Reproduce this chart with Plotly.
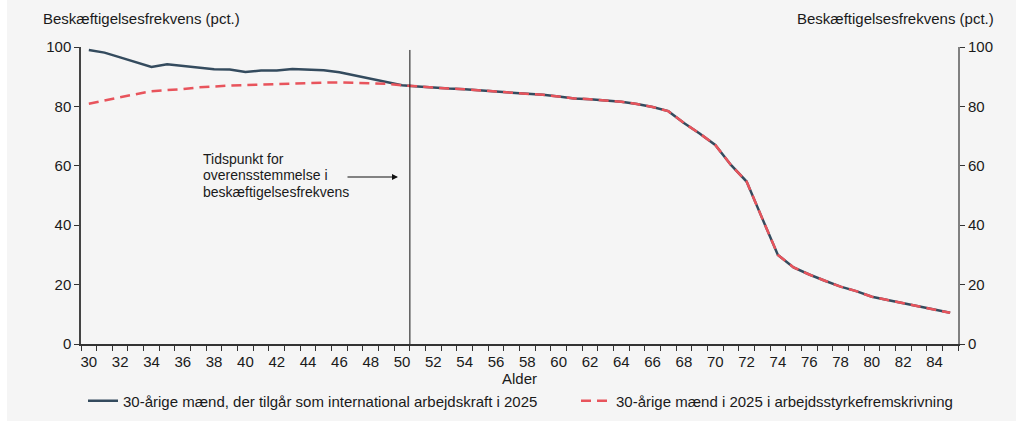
import plotly.graph_objects as go

ages = list(range(30, 86))
blue_head = [99.0, 98.1, 96.5, 94.9, 93.3, 94.2, 93.6, 93.1, 92.5, 92.4, 91.6,
             92.1, 92.1, 92.6, 92.4, 92.2, 91.5, 90.4, 89.5, 88.3, 87.1]
red_head = [80.9, 82.1, 83.1, 84.1, 85.1, 85.5, 85.8, 86.4, 86.8, 87.0, 87.2,
            87.4, 87.5, 87.6, 87.9, 88.0, 88.1, 87.9, 87.7, 87.6, 87.1]
common_tail = [86.7, 86.3, 86.0, 85.8, 85.3, 85.0, 84.6, 84.3, 83.9, 83.3, 82.7,
               82.4, 82.0, 81.6, 80.8, 79.8, 78.4, 74.4, 70.9, 67.0, 60.3, 54.7,
               42.3, 30.0, 25.8, 23.4, 21.3, 19.3, 17.8, 15.9, 14.8, 13.7, 12.6,
               11.4, 10.5]
blue_vals = blue_head + common_tail
red_vals = red_head + common_tail
x_tick_labels = list(range(30, 86, 2))
y_ticks = [0, 20, 40, 60, 80, 100]
name_blue = "30-årige mænd, der tilgår som international arbejdskraft i 2025"
name_red = "30-årige mænd i 2025 i arbejdsstyrkefremskrivning"
y_title = "Beskæftigelsesfrekvens (pct.)"
x_title = "Alder"
note_lines = ["Tidspunkt for", "overensstemmelse i", "beskæftigelsesfrekvens"]

# page: figure placed at window x=7, y=0
OFFX = 7
W, H = 1016 - OFFX, 421
PL, PR, PT, PB = 81, 958, 47, 344          # plot area in window pixels
ML, MR, MT, MB = PL - OFFX, 1016 - PR, PT, H - PB
PW, PH = PR - PL, PB - PT

def px(xp):
    return (xp - PL) / PW

def py(yp):
    return (PB - yp) / PH

FONT = "Liberation Sans, Arial, sans-serif"
BLUE = "#344b5e"
RED = "#e8545c"
TXT = "#1a1a1a"
FS = 15

fig = go.Figure()
fig.add_trace(go.Scatter(x=ages, y=blue_vals, mode="lines", name=name_blue,
                         line=dict(color=BLUE, width=2.5), legend="legend"))
fig.add_trace(go.Scatter(x=ages, y=red_vals, mode="lines", name=name_red,
                         line=dict(color=RED, width=2.5, dash="10px,6px"),
                         yaxis="y2", legend="legend2"))

fig.update_layout(
    width=W, height=H,
    margin=dict(l=ML, r=MR, t=MT, b=MB, autoexpand=False),
    paper_bgcolor="#f5f5f5", plot_bgcolor="#f5f5f5",
    font=dict(family=FONT, size=FS, color=TXT),
    xaxis=dict(range=[29.5, 85.5], tickmode="array", tickvals=x_tick_labels,
               ticks="", showgrid=False, zeroline=False, automargin=False,
               showline=True, linecolor="#333333", linewidth=1.5,
               tickfont=dict(size=FS, color=TXT), ticklabelstandoff=3,
               minor=dict(ticks="outside", tick0=29.5, dtick=1, ticklen=5,
                          tickcolor="#333333", tickwidth=1, showgrid=False)),
    yaxis=dict(range=[0, 100], tickvals=y_ticks, ticks="outside", ticklen=5,
               tickcolor="#333333", showgrid=False, zeroline=False, automargin=False,
               showline=True, linecolor="#444444", linewidth=1.5,
               tickfont=dict(size=FS, color=TXT)),
    yaxis2=dict(range=[0, 100], tickvals=y_ticks, ticks="outside", ticklen=5,
                tickcolor="#333333", overlaying="y", side="right", automargin=False,
                showgrid=False, zeroline=False, showline=True,
                linecolor="#808080", linewidth=2,
                tickfont=dict(size=FS, color=TXT)),
    legend=dict(x=px(83), y=py(401), xanchor="left", yanchor="middle",
                bgcolor="rgba(0,0,0,0)", font=dict(size=FS, color=TXT)),
    legend2=dict(x=px(576), y=py(401), xanchor="left", yanchor="middle",
                 bgcolor="rgba(0,0,0,0)", font=dict(size=FS, color=TXT)),
    showlegend=True,
)

# vertical reference line at the boundary between ages 50 and 51
fig.add_shape(type="line", xref="x", yref="y", x0=50.5, x1=50.5, y0=0, y1=99,
              line=dict(color="#111111", width=1))

fig.add_annotation(xref="paper", yref="paper", x=px(41), y=py(19), text=y_title,
                   showarrow=False, xanchor="left", yanchor="middle",
                   font=dict(size=FS, color=TXT))
fig.add_annotation(xref="paper", yref="paper", x=px(996), y=py(19), text=y_title,
                   showarrow=False, xanchor="right", yanchor="middle",
                   font=dict(size=FS, color=TXT))
fig.add_annotation(xref="paper", yref="paper", x=px(519), y=py(378), text=x_title,
                   showarrow=False, xanchor="center", yanchor="middle",
                   font=dict(size=FS, color=TXT))
for i, line in enumerate(note_lines):
    fig.add_annotation(xref="paper", yref="paper", x=px(201), y=py(159 + 16.3 * i),
                       text=line, showarrow=False, xanchor="left", yanchor="middle",
                       align="left", font=dict(size=14, color=TXT))
# arrow pointing at the line
fig.add_annotation(xref="paper", yref="paper", x=px(398), y=py(177),
                   axref="pixel", ayref="pixel", ax=-52, ay=0,
                   text="", showarrow=True, arrowhead=2, arrowsize=1,
                   arrowwidth=1.2, arrowcolor="#111111", standoff=0)

fig.write_html("out.html",
               post_script="document.body.style.margin='0 0 0 7px';"
                           "document.body.style.overflow='hidden';")
